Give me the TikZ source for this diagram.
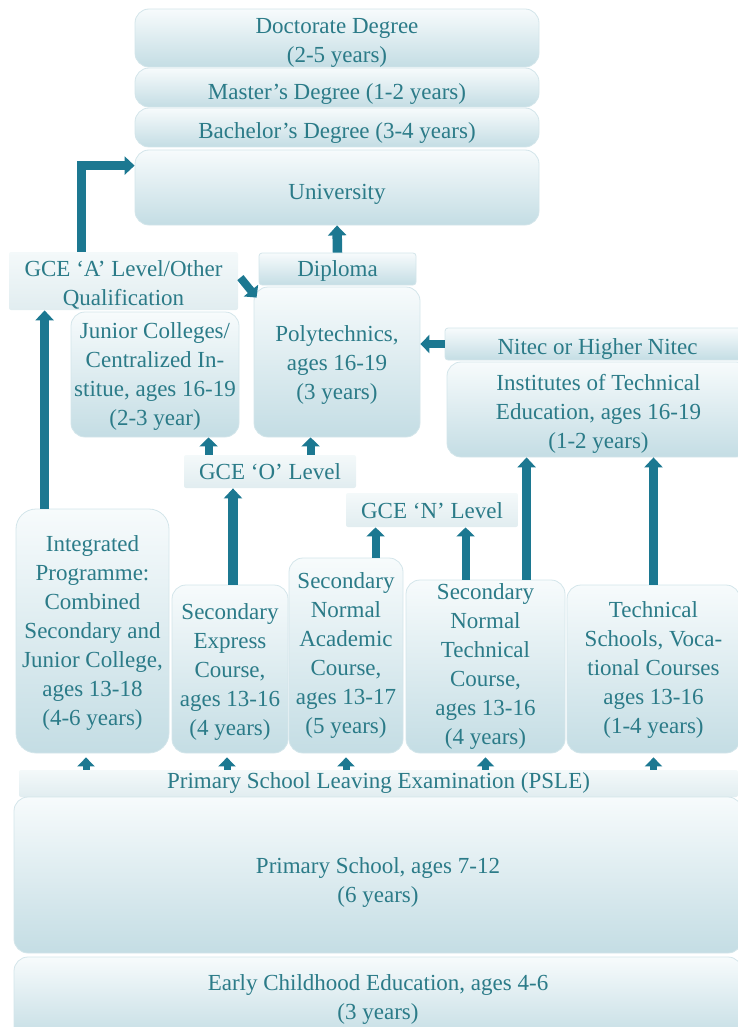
\documentclass[tikz,border=0pt]{standalone}
\usepackage{fontspec}
\setmainfont{Liberation Serif}
\usetikzlibrary{arrows.meta,calc}
\definecolor{txt}{HTML}{2B7B88}
\definecolor{arr}{HTML}{1C7891}
\definecolor{btop}{HTML}{F7FBFC}
\definecolor{bbot}{HTML}{C4DDE4}
\definecolor{bdr}{HTML}{D3E5EA}
\definecolor{ltop}{HTML}{F4F9FA}
\definecolor{lbot}{HTML}{E1EDF0}
% box text: rows 29pt apart, visually centred on the node, lowered by #1 pt
\newcommand\bt[2][0]{\raisebox{\dimexpr-6pt-(#1pt)\relax}[0pt][0pt]{\begin{tabular}{@{}c@{}}#2\end{tabular}}}
\begin{document}
\begin{tikzpicture}[x=1pt,y=-1pt,
  box/.style={draw=bdr, line width=0.8pt, rounded corners=14pt, top color=btop, bottom color=bbot,
    text=txt, inner sep=0pt, font=\fontsize{23}{29}\selectfont},
  flat/.style={box, rounded corners=3pt},
  lab/.style={box, draw=none, rounded corners=2pt, top color=ltop, bottom color=lbot},
  arrbig/.style={draw=arr, line width=9.5pt, -{Triangle[width=18pt,length=10pt]}},
  arrmid/.style={draw=arr, line width=8pt, -{Triangle[width=18pt,length=9pt]}},
  arrsm/.style={draw=arr, line width=7pt, -{Triangle[width=17pt,length=9pt]}},
]
\useasboundingbox (0,0) rectangle (738,1027);
\clip (0,0) rectangle (738,1027);

% higher education
\node[box, minimum width=404, minimum height=58] (doc) at (337,38) {\bt[4]{Doctorate Degree\\(2-5 years)}};
\node[box, minimum width=404, minimum height=39] (mast) at (337,87.5) {\bt[6]{Master’s Degree (1-2 years)}};
\node[box, minimum width=404, minimum height=39] (bach) at (337,127.5) {\bt[5]{Bachelor’s Degree (3-4 years)}};
\node[box, minimum width=404, minimum height=75] (univ) at (337,187.5) {\bt[6]{University}};

% post-secondary
\node[lab, minimum width=229, minimum height=58] (gcea) at (123.5,281) {\bt[4]{GCE ‘A’ Level/Other\\Qualification}};
\node[flat, minimum width=157, minimum height=32] (dipl) at (337.5,269) {\bt[2]{Diploma}};
\node[box, minimum width=166, minimum height=150] (poly) at (337,362) {\bt[3]{Polytechnics,\\ages 16-19\\(3 years)}};
\node[box, minimum width=168, minimum height=125] (jc) at (155,374.5) {\bt[1.5]{Junior Colleges/\\Centralized In-\\stitue, ages 16-19\\(2-3 year)}};
\node[flat, minimum width=305, minimum height=32] (nitec) at (597.5,344) {\bt[5]{Nitec or Higher Nitec}};
\node[box, minimum width=303, minimum height=95] (ite) at (598.5,409.5) {\bt[4]{Institutes of Technical\\Education, ages 16-19\\(1-2 years)}};
\node[lab, minimum width=172, minimum height=33] (gceo) at (270,471.5) {\bt[2]{GCE ‘O’ Level}};
\node[lab, minimum width=172, minimum height=34] (gcen) at (432,510) {\bt[3]{GCE ‘N’ Level}};

% secondary
\node[box, rounded corners=20pt, minimum width=153, minimum height=244] (integ) at (92.5,631) {\bt[2]{Integrated\\Programme:\\Combined\\Secondary and\\Junior College,\\ages 13-18\\(4-6 years)}};
\node[box, minimum width=116, minimum height=168] (sexp) at (230,669) {\bt[2.5]{Secondary\\Express\\Course,\\ages 13-16\\(4 years)}};
\node[box, minimum width=114, minimum height=195] (sna) at (346,655.5) {\bt[0]{Secondary\\Normal\\Academic\\Course,\\ages 13-17\\(5 years)}};
\node[box, minimum width=159, minimum height=173] (snt) at (485.5,666.5) {\bt[0]{Secondary\\Normal\\Technical\\Course,\\ages 13-16\\(4 years)}};
\node[box, minimum width=173, minimum height=168] (tech) at (653.5,669) {\bt[1]{Technical\\Schools, Voca-\\tional Courses\\ages 13-16\\(1-4 years)}};

% primary and early
\node[lab, minimum width=719, minimum height=27] (psle) at (378.5,783.5) {\bt[-1]{Primary School Leaving Examination (PSLE)}};
\node[box, minimum width=728, minimum height=156] (prim) at (378,875) {\bt[7]{Primary School, ages 7-12\\(6 years)}};
\node[box, minimum width=728, minimum height=83] (early) at (378,998.5) {\bt[1]{Early Childhood Education, ages 4-6\\(3 years)}};

% connector foot points
\coordinate (p1) at ($(gcea.north west)+(73,0)$);
\coordinate (p2) at ($(integ.north west)+(29,0)$);
\coordinate (p3) at ($(gceo.north west)+(25,0)$);
\coordinate (p4) at ($(gceo.north west)+(127,0)$);
\coordinate (p5) at ($(sexp.north)+(3,0)$);
\coordinate (p6) at ($(sna.north west)+(87,0)$);
\coordinate (p7) at ($(snt.north west)+(60,0)$);
\coordinate (p8) at ($(snt.north west)+(121,0)$);
\coordinate (q1) at ($(integ.south)+(-6.5,0)$);
\coordinate (q2) at ($(sexp.south)+(-3,0)$);
\coordinate (q3) at (sna.south);
\coordinate (q4) at (snt.south);
\coordinate (q5) at (tech.south);

% connectors
\draw[arrbig] (p1) |- ($(univ.north west)+(0,16)$);
\draw[arrbig] (p2) -- (p2 |- gcea.south);
\draw[arrbig] (dipl.north) -- (univ.south);
\draw[arrmid] ($(gcea.north east)+(2,26)$) -- ($(poly.north west)+(3,11)$);
\draw[arrmid] (nitec.west) -- (nitec.west -| poly.east);
\draw[arrmid] (p3) -- (p3 |- jc.south);
\draw[arrmid] (p4) -- (p4 |- poly.south);
\draw[arrbig] (p5) -- (p5 |- gceo.south);
\draw[arrmid] (p6) -- (p6 |- gcen.south);
\draw[arrmid] (p7) -- (p7 |- gcen.south);
\draw[arrbig] (p8) -- (p8 |- ite.south);
\draw[arrbig] (tech.north) -- (tech.north |- ite.south);
\foreach \q in {q1,q2,q3,q4,q5}
  \draw[arrsm] (\q |- psle.north) -- ($(\q)+(0,4)$);
\end{tikzpicture}
\end{document}
